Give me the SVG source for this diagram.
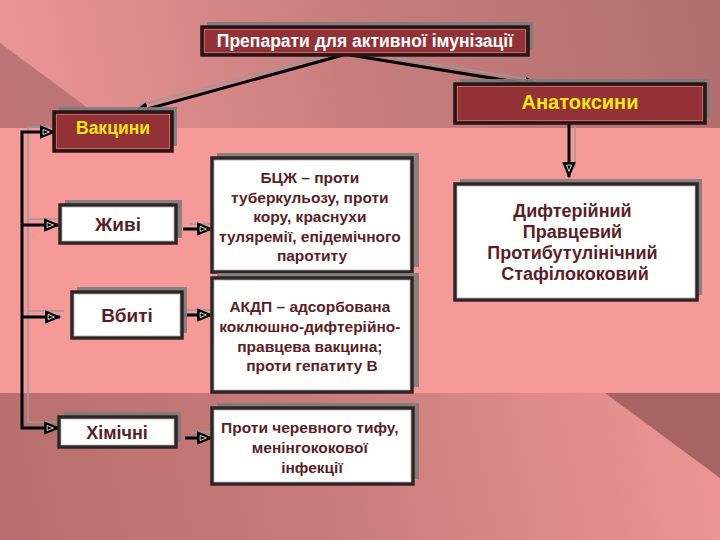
<svg xmlns="http://www.w3.org/2000/svg" width="720" height="540" viewBox="0 0 720 540">
<defs>
<linearGradient id="gTop" x1="0" y1="130" x2="720" y2="0" gradientUnits="userSpaceOnUse">
<stop offset="0" stop-color="#ee9696"/><stop offset="0.5" stop-color="#c77d7d"/><stop offset="1" stop-color="#b16e6e"/>
</linearGradient>
<linearGradient id="gBot" x1="0" y1="540" x2="720" y2="393" gradientUnits="userSpaceOnUse">
<stop offset="0" stop-color="#b86e6e"/><stop offset="0.45" stop-color="#c97b7b"/><stop offset="1" stop-color="#ee9696"/>
</linearGradient>
<marker id="arr" viewBox="0 0 12 10" refX="11" refY="5" markerWidth="17" markerHeight="14" markerUnits="userSpaceOnUse" orient="auto">
<path d="M0,0 L12,5 L0,10 Z" fill="#000"/>
<path d="M2.5,3.2 L7,5 L2.5,6.8 Z" fill="none" stroke="#fff" stroke-width="0.6"/>
</marker>
<style>
.shadow{fill:#7c7c7c;opacity:0.9}
.dark{fill:#923236;stroke:#2a1414;stroke-width:3.5}
.darkin{fill:none;stroke:#c86a6a;stroke-width:0.9}
.white{fill:#fff;stroke:#2e2626;stroke-width:3.5}
.whitein{fill:none;stroke:#e0dada;stroke-width:0.9}
.ttl{font-family:"Liberation Sans",Arial,sans-serif;font-weight:bold;text-anchor:middle}
.yel{fill:#f7e51c}
.mar{fill:#5a1e28}
.blk{stroke:#000;stroke-width:3;fill:none}
.gry{stroke:#9a9a9a;stroke-width:1.5;fill:none}
</style>
</defs>

<g id="background">
<rect x="0" y="0" width="720" height="128" fill="url(#gTop)"/>
<polygon points="0,43 85,106 100,128 0,128" fill="#b56e6e" opacity="0.85"/>
<rect x="0" y="128" width="720" height="265" fill="#f59a98"/>
<rect x="0" y="393" width="720" height="147" fill="url(#gBot)"/>
<polygon points="605,393 720,393 720,478" fill="#a86464"/>
</g>

<g id="connectors">
<line class="gry" x1="343" y1="51" x2="138" y2="106"/>
<line class="blk" x1="343" y1="55" x2="133" y2="113" marker-end="url(#arr)"/>
<line class="gry" x1="352" y1="51" x2="540" y2="81"/>
<line class="blk" x1="350" y1="55" x2="540" y2="86" marker-end="url(#arr)"/>
<line class="gry" x1="575" y1="123" x2="575" y2="168"/>
<line class="blk" x1="569" y1="123" x2="569" y2="177" marker-end="url(#arr)"/>
<polyline class="gry" points="50,127 28,127 28,422 60,422"/>
<polyline class="blk" points="55,132 22,132 22,428 59,428" marker-end="url(#arr)"/>
<line class="blk" x1="40" y1="132" x2="55" y2="132" marker-end="url(#arr)"/>
<line class="gry" x1="28" y1="219" x2="62" y2="219"/>
<line class="blk" x1="22" y1="225" x2="59" y2="225" marker-end="url(#arr)"/>
<line class="gry" x1="28" y1="311" x2="64" y2="311"/>
<line class="blk" x1="22" y1="317" x2="60" y2="317" marker-end="url(#arr)"/>
<line class="gry" x1="190" y1="224" x2="216" y2="224"/>
<line class="blk" x1="183" y1="229" x2="212" y2="229" marker-end="url(#arr)"/>
<line class="gry" x1="186" y1="310" x2="216" y2="310"/>
<line class="blk" x1="182" y1="315" x2="212" y2="315" marker-end="url(#arr)"/>
<line class="gry" x1="192" y1="432" x2="216" y2="432"/>
<line class="blk" x1="185" y1="438" x2="212" y2="438" marker-end="url(#arr)"/>
</g>

<g id="title">
<rect class="shadow" x="207" y="22" width="326" height="28"/>
<rect class="dark" x="202" y="27" width="326" height="28"/>
<rect class="darkin" x="204.5" y="29.5" width="321" height="23"/>
<text class="ttl" x="365" y="47" font-size="17.5" fill="#fff">Препарати для активної імунізації</text>
</g>

<g id="vakcyny">
<rect class="shadow" x="59" y="107" width="118" height="39"/>
<rect class="dark" x="54" y="112" width="118" height="39"/>
<rect class="darkin" x="56.5" y="114.5" width="113" height="34"/>
<text class="ttl yel" x="113" y="134" font-size="17.5">Вакцини</text>
</g>

<g id="anatoksyny">
<rect class="shadow" x="460" y="79" width="250" height="39"/>
<rect class="dark" x="455" y="84" width="250" height="39"/>
<rect class="darkin" x="457.5" y="86.5" width="245" height="34"/>
<text class="ttl yel" x="580" y="109" font-size="20">Анатоксини</text>
</g>

<g id="zhyvi">
<rect class="shadow" x="65" y="200" width="117" height="38"/>
<rect class="white" x="60" y="205" width="116" height="38"/>
<rect class="whitein" x="62.5" y="207.5" width="111" height="33"/>
<text class="ttl mar" x="118" y="231" font-size="19">Живі</text>
</g>

<g id="vbyti">
<rect class="shadow" x="77" y="287" width="110" height="46"/>
<rect class="white" x="72" y="292" width="110" height="46"/>
<rect class="whitein" x="74.5" y="294.5" width="105" height="41"/>
<text class="ttl mar" x="127" y="322" font-size="19">Вбиті</text>
</g>

<g id="khimichni">
<rect class="shadow" x="64" y="412" width="117" height="30"/>
<rect class="white" x="59" y="417" width="117" height="30"/>
<rect class="whitein" x="61.5" y="419.5" width="112" height="25"/>
<text class="ttl mar" x="117" y="439" font-size="18">Хімічні</text>
</g>

<g id="bcg">
<rect class="shadow" x="217" y="153" width="202" height="114"/>
<rect class="white" x="212" y="158" width="200" height="114"/>
<rect class="whitein" x="214.5" y="160.5" width="195" height="109"/>
<text class="ttl mar" font-size="15.5">
<tspan x="312" y="183">БЦЖ – проти</tspan>
<tspan x="312" y="203">туберкульозу, проти</tspan>
<tspan x="312" y="222">кору, краснухи</tspan>
<tspan x="312" y="242">туляремії, епідемічного</tspan>
<tspan x="312" y="261">паротиту</tspan>
</text>
</g>

<g id="akdp">
<rect class="shadow" x="217" y="273" width="202" height="114"/>
<rect class="white" x="212" y="278" width="200" height="114"/>
<rect class="whitein" x="214.5" y="280.5" width="195" height="109"/>
<text class="ttl mar" font-size="15.5">
<tspan x="312" y="312">АКДП – адсорбована</tspan>
<tspan x="312" y="332">коклюшно-дифтерійно-</tspan>
<tspan x="312" y="352">правцева вакцина;</tspan>
<tspan x="312" y="371">проти гепатиту В</tspan>
</text>
</g>

<g id="typhoid">
<rect class="shadow" x="217" y="403" width="202" height="76"/>
<rect class="white" x="212" y="408" width="201" height="76"/>
<rect class="whitein" x="214.5" y="410.5" width="196" height="71"/>
<text class="ttl mar" font-size="15.5">
<tspan x="312" y="433">Проти черевного тифу,</tspan>
<tspan x="312" y="453">менінгококової</tspan>
<tspan x="312" y="473">інфекції</tspan>
</text>
</g>

<g id="toxoids">
<rect class="shadow" x="460" y="179" width="242" height="116"/>
<rect class="white" x="455" y="184" width="242" height="116"/>
<rect class="whitein" x="457.5" y="186.5" width="237" height="111"/>
<text class="ttl mar" font-size="18">
<tspan x="575" y="217">Дифтерійний</tspan>
<tspan x="575" y="238">Правцевий</tspan>
<tspan x="575" y="259">Протибутулінічний</tspan>
<tspan x="575" y="280">Стафілококовий</tspan>
</text>
</g>
</svg>
